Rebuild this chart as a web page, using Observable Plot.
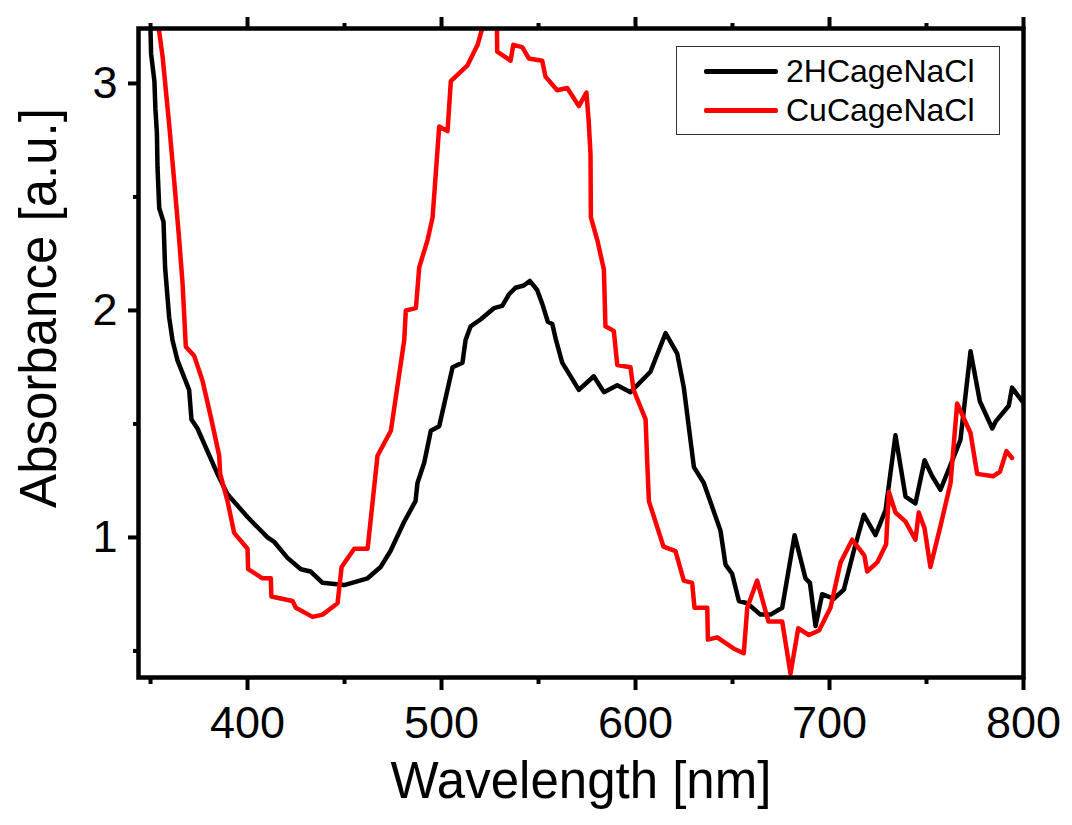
<!DOCTYPE html>
<html>
<head>
<meta charset="utf-8">
<script src="https://cdn.jsdelivr.net/npm/d3@7"></script>
<script src="https://cdn.jsdelivr.net/npm/@observablehq/plot@0.6"></script>
<style>
  html, body { margin: 0; padding: 0; background: white; overflow: hidden; }
  #wrap { position: relative; width: 1072px; height: 825px; font-family: "Liberation Sans", Arial, sans-serif; }
  #legend { position: absolute; left: 676px; top: 46px; width: 322px; height: 87px; border: 1.5px solid #333; background: white; }
  .row { position: absolute; left: 0; height: 0; }
  .sw { position: absolute; left: 27px; width: 74px; height: 5px; margin-top: -2.5px; border-radius: 2px; }
  .lab { position: absolute; left: 109px; top: -19px; font-size: 32px; line-height: 38px; white-space: nowrap; color: black; }
</style>
</head>
<body>
<div id="wrap"></div>
<script>
// Series names and colours
const seriesNames = ["2HCageNaCl", "CuCageNaCl"];
const seriesColors = ["black", "#ff0000"];

// 2HCageNaCl (black)
const wl2H = [349.8, 350.3, 352.0, 352.5, 353.3, 353.6, 354.5, 356.7, 357.5, 359.6, 361.3, 363.9, 369.9, 371.1, 374.2, 384.5, 389.7, 400.0, 410.3, 413.8, 420.6, 427.5, 432.5, 438.7, 449.8, 461.9, 468.6, 473.7, 480.8, 486.6, 487.6, 491.1, 494.5, 498.8, 505.7, 510.8, 512.4, 515.0, 520.1, 527.0, 531.3, 534.7, 538.1, 542.4, 545.5, 549.3, 551.9, 554.8, 557.1, 559.0, 562.2, 570.8, 578.5, 583.7, 590.6, 597.4, 607.7, 615.5, 621.5, 624.9, 630.1, 635.2, 643.8, 646.4, 649.8, 653.3, 657.6, 664.4, 669.6, 675.6, 682.0, 687.6, 689.9, 692.8, 696.2, 702.2, 707.4, 712.5, 717.7, 723.7, 728.9, 734.0, 739.2, 744.3, 749.0, 752.9, 757.2, 762.4, 767.5, 772.7, 777.5, 783.9, 785.6, 792.4, 794.1, 799.3];
const abs2H = [3.30, 3.13, 3.01, 2.89, 2.78, 2.63, 2.45, 2.39, 2.19, 1.97, 1.87, 1.78, 1.65, 1.52, 1.48, 1.28, 1.19, 1.09, 1.00, 0.98, 0.91, 0.86, 0.85, 0.80, 0.79, 0.82, 0.87, 0.94, 1.07, 1.16, 1.24, 1.33, 1.47, 1.49, 1.75, 1.77, 1.87, 1.93, 1.96, 2.01, 2.02, 2.07, 2.10, 2.11, 2.13, 2.09, 2.03, 1.95, 1.94, 1.87, 1.77, 1.65, 1.71, 1.64, 1.67, 1.64, 1.73, 1.90, 1.81, 1.66, 1.31, 1.24, 1.03, 0.88, 0.84, 0.72, 0.71, 0.66, 0.66, 0.69, 1.01, 0.82, 0.80, 0.61, 0.75, 0.73, 0.77, 0.94, 1.10, 1.01, 1.12, 1.45, 1.18, 1.15, 1.34, 1.27, 1.21, 1.32, 1.43, 1.82, 1.60, 1.48, 1.51, 1.58, 1.66, 1.60];

// CuCageNaCl (red)
const wlCu = [353.3, 356.2, 359.6, 362.2, 364.8, 366.5, 368.2, 372.5, 376.8, 381.1, 385.4, 385.9, 389.7, 393.1, 400.0, 400.3, 407.7, 412.0, 412.3, 423.2, 424.9, 433.5, 438.7, 446.4, 448.5, 455.0, 461.9, 467.0, 473.9, 480.8, 481.6, 486.8, 488.5, 492.8, 495.4, 498.8, 503.1, 504.8, 513.4, 518.6, 520.9, 522.0, 528.5, 528.7, 535.6, 537.0, 541.6, 545.0, 551.9, 553.6, 559.6, 564.8, 570.8, 574.7, 575.9, 576.8, 577.0, 580.3, 583.7, 584.5, 588.8, 590.6, 597.4, 599.0, 605.2, 606.0, 606.9, 614.4, 620.6, 624.9, 629.2, 630.4, 637.0, 637.3, 642.1, 650.7, 655.8, 657.6, 662.7, 668.5, 675.6, 679.9, 683.9, 689.4, 694.6, 700.5, 705.7, 711.7, 718.0, 719.4, 724.6, 729.2, 730.6, 734.0, 739.2, 744.3, 746.0, 749.0, 752.0, 757.2, 762.4, 765.8, 772.7, 776.1, 784.5, 787.9, 791.2, 794.1];
const absCu = [3.30, 3.12, 2.82, 2.57, 2.31, 2.12, 1.84, 1.80, 1.69, 1.53, 1.36, 1.28, 1.16, 1.02, 0.95, 0.86, 0.82, 0.82, 0.74, 0.72, 0.69, 0.65, 0.66, 0.71, 0.87, 0.95, 0.95, 1.36, 1.47, 1.87, 2.00, 2.01, 2.19, 2.31, 2.41, 2.81, 2.79, 3.01, 3.08, 3.17, 3.24, 3.34, 3.34, 3.14, 3.10, 3.17, 3.16, 3.11, 3.10, 3.03, 2.97, 2.98, 2.90, 2.96, 2.83, 2.69, 2.41, 2.31, 2.18, 1.93, 1.91, 1.76, 1.75, 1.65, 1.52, 1.34, 1.16, 0.96, 0.94, 0.81, 0.80, 0.69, 0.69, 0.55, 0.56, 0.51, 0.49, 0.69, 0.81, 0.63, 0.63, 0.40, 0.60, 0.57, 0.59, 0.69, 0.89, 0.99, 0.92, 0.85, 0.89, 0.97, 1.20, 1.11, 1.07, 0.99, 1.11, 1.04, 0.87, 1.05, 1.24, 1.59, 1.46, 1.28, 1.27, 1.29, 1.38, 1.35];

// Axis ticks
const xMajorTicks = [400, 500, 600, 700, 800];
const xMinorTicks = [350, 450, 550, 650, 750];
const yMajorTicks = [1, 2, 3];
const yMinorTicks = [0.5, 1.5, 2.5];
const xLabel = "Wavelength [nm]";
const yLabel = "Absorbance [a.u.]";

const data2H = wl2H.map((w, i) => ({w, a: abs2H[i]}));
const dataCu = wlCu.map((w, i) => ({w, a: absCu[i]}));

const blank = () => "";
const chart = Plot.plot({
  width: 1072,
  height: 825,
  marginLeft: 138,
  marginRight: 49,
  marginTop: 28,
  marginBottom: 148,
  x: {domain: [343.8, 800]},
  y: {domain: [0.383, 3.242]},
  style: {fontFamily: "'Liberation Sans', Arial, sans-serif", background: "white", color: "black"},
  marks: [
    Plot.line(data2H, {x: "w", y: "a", stroke: seriesColors[0], strokeWidth: 4.5, clip: true}),
    Plot.line(dataCu, {x: "w", y: "a", stroke: seriesColors[1], strokeWidth: 4.5, clip: true}),
    Plot.axisX({ticks: xMajorTicks, tickSize: 13, tickPadding: 16, fontSize: 45, strokeWidth: 4, tickFormat: d => String(d), label: null}),
    Plot.axisX({ticks: xMinorTicks, tickSize: 7, tickFormat: blank, strokeWidth: 4, label: null}),
    Plot.axisX({anchor: "top", ticks: xMajorTicks, tickSize: 12, tickFormat: blank, strokeWidth: 4, label: null}),
    Plot.axisX({anchor: "top", ticks: xMinorTicks, tickSize: 6, tickFormat: blank, strokeWidth: 4, label: null}),
    Plot.axisY({ticks: yMajorTicks, tickSize: 10, tickPadding: 11, fontSize: 45, strokeWidth: 4, tickFormat: d => String(d), label: null}),
    Plot.axisY({ticks: yMinorTicks, tickSize: 5, tickFormat: blank, strokeWidth: 4, label: null}),
    Plot.frame({stroke: "black", strokeWidth: 4.5}),
    Plot.text([xLabel], {frameAnchor: "bottom", textAnchor: "middle", lineAnchor: "middle", dy: 104, fontSize: 51, fill: "black"}),
    Plot.text([yLabel], {frameAnchor: "left", textAnchor: "middle", lineAnchor: "middle", rotate: -90, dx: -99, dy: -45, fontSize: 51, fill: "black"})
  ]
});

const wrap = document.getElementById("wrap");
wrap.appendChild(chart);

const legend = document.createElement("div");
legend.id = "legend";
const rowTops = [24, 63];
seriesNames.forEach((name, i) => {
  const row = document.createElement("div");
  row.className = "row";
  row.style.top = rowTops[i] + "px";
  const sw = document.createElement("div");
  sw.className = "sw";
  sw.style.background = seriesColors[i];
  const lab = document.createElement("div");
  lab.className = "lab";
  lab.textContent = name;
  row.appendChild(sw);
  row.appendChild(lab);
  legend.appendChild(row);
});
wrap.appendChild(legend);
</script>
</body>
</html>
